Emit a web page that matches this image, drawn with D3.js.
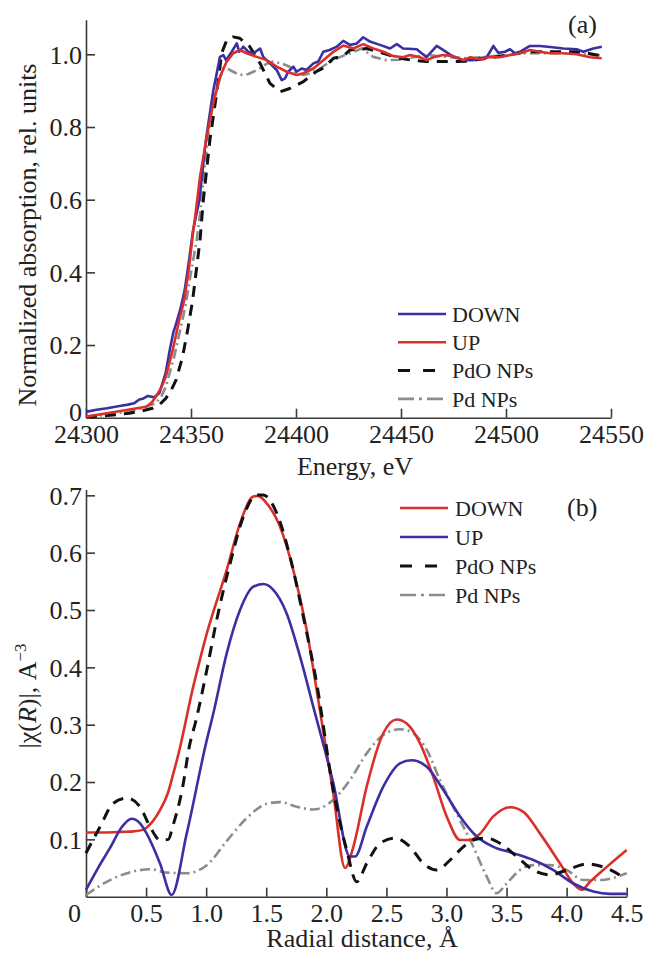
<!DOCTYPE html>
<html>
<head>
<meta charset="utf-8">
<script src="https://cdn.jsdelivr.net/npm/d3@7"></script>
<style>
  body { margin: 0; background: #fff; }
  svg { display: block; }
  text { font-family: "Liberation Serif", "Times New Roman", serif; fill: #222; }
</style>
</head>
<body>
<svg id="chart" width="646" height="954"></svg>
<script>
"use strict";

// ---- panel (a): XANES, energy (eV) vs normalized absorption ----
var xanesDown = [[24300,0.016],[24305,0.022],[24310,0.026],[24316,0.032],[24320,0.036],[24323,0.04],[24325.4,0.05],[24327,0.052],[24329.4,0.06],[24332.5,0.056],[24335,0.068],[24338,0.125],[24340,0.19],[24341.6,0.235],[24343,0.26],[24345,0.3],[24347,0.351],[24349,0.43],[24351,0.516],[24354,0.6],[24357,0.76],[24360.6,0.9],[24362,0.94],[24363.8,0.993],[24365.4,0.998],[24366.7,0.984],[24369.4,1.007],[24371.8,1.03],[24373,1.007],[24374.9,1.021],[24377.3,1.007],[24379.7,1.003],[24382.9,1.016],[24384.4,0.993],[24387.6,0.975],[24390.8,0.957],[24393.2,0.929],[24394.8,0.934],[24396.3,0.952],[24398.7,0.966],[24400.3,0.952],[24402.7,0.961],[24405,0.957],[24408.3,0.975],[24410.6,0.98],[24413,1.007],[24416,1.012],[24419.4,1.021],[24422.5,1.037],[24425.7,1.026],[24429,1.03],[24432,1.047],[24435.2,1.035],[24440,1.026],[24444.8,1.016],[24448,1.028],[24451,1.016],[24457.5,1.014],[24462.2,0.992],[24467,1.023],[24470,1.012],[24475,0.993],[24479.7,0.984],[24484.4,0.984],[24487.6,0.99],[24490.8,0.992],[24494,1.023],[24496.3,1.004],[24499.5,1.007],[24501.9,1.014],[24504.3,1.003],[24507,1.008],[24511.4,1.023],[24516.2,1.023],[24521,1.02],[24527.3,1.016],[24533.7,1.014],[24536.8,1.007],[24541.6,1.016],[24545.6,1.021]];
var xanesUp = [[24300,0.003],[24310,0.012],[24320,0.022],[24328.6,0.03],[24331,0.04],[24333.3,0.058],[24336,0.085],[24338,0.113],[24341.3,0.186],[24344.4,0.269],[24346.8,0.324],[24349,0.41],[24351.1,0.516],[24352,0.553],[24354.3,0.663],[24357.5,0.773],[24360.6,0.865],[24363.8,0.938],[24367,0.98],[24370.1,1.003],[24373.3,1.012],[24376.5,1.003],[24381.3,0.993],[24386,0.984],[24390.8,0.966],[24395.6,0.952],[24400.3,0.943],[24403.5,0.948],[24408.3,0.961],[24413,0.984],[24417.8,1.007],[24422.5,1.024],[24427.3,1.016],[24432,1.028],[24436.8,1.016],[24441.6,1.007],[24446.3,0.995],[24451,0.992],[24454.3,0.998],[24459,0.992],[24462.2,0.984],[24465.5,0.992],[24470,0.998],[24475,0.995],[24479.7,0.984],[24483,0.992],[24487.6,0.986],[24492.4,0.993],[24497,0.992],[24502,0.998],[24506.7,1.003],[24511.4,1.012],[24516,1.007],[24521,1.003],[24527,1.003],[24533.7,1.0],[24540,0.992],[24545.6,0.989]];
var xanesPdO = [[24300,0.002],[24310,0.006],[24320.6,0.012],[24326,0.018],[24331.7,0.026],[24335,0.036],[24338,0.053],[24340.5,0.075],[24342.9,0.104],[24346,0.168],[24348.4,0.241],[24350.8,0.324],[24354.3,0.489],[24355.9,0.6],[24359,0.764],[24362.2,0.893],[24364.6,1.003],[24367,1.039],[24370,1.048],[24373.3,1.044],[24378,1.021],[24382.9,0.975],[24387.6,0.92],[24392.4,0.897],[24397,0.906],[24403.5,0.925],[24409.8,0.953],[24413,0.962],[24417.8,0.989],[24422.5,0.995],[24425.7,1.012],[24433.7,1.016],[24441.6,1.003],[24449.5,0.989],[24455,0.984],[24462.2,0.98],[24471.8,0.98],[24481,0.981],[24490.8,0.989],[24500.3,0.998],[24509.8,1.007],[24519.4,1.007],[24528.9,1.007],[24536,1.007],[24543,0.998],[24545.6,0.995]];
var xanesPd = [[24300,0.001],[24312,0.01],[24323.8,0.021],[24333.3,0.04],[24336,0.06],[24338,0.085],[24342,0.168],[24345.2,0.25],[24347.6,0.315],[24350,0.4],[24352.7,0.489],[24354.3,0.56],[24356.5,0.69],[24359,0.819],[24361,0.88],[24363,0.92],[24365.4,0.962],[24367.5,0.96],[24370.1,0.952],[24372.5,0.945],[24374.9,0.943],[24377.3,0.946],[24379.7,0.952],[24382.9,0.962],[24386,0.974],[24389.2,0.98],[24393,0.975],[24397,0.966],[24400,0.95],[24403.5,0.943],[24407,0.948],[24411.4,0.961],[24415,0.975],[24419.4,0.989],[24425.7,1.003],[24431.3,1.016],[24436.8,0.993],[24443,0.984],[24449.5,0.985],[24456,0.992],[24462.2,0.998],[24471.8,0.993],[24481,0.989],[24490.8,0.993],[24500,0.998],[24509.8,1.003],[24519.4,1.003],[24528.9,1.003],[24538,1.0],[24545,0.998]];
var xanesTicksX = [24300, 24350, 24400, 24450, 24500, 24550];
var xanesTicksY = [0, 0.2, 0.4, 0.6, 0.8, 1.0];

// ---- panel (b): FT EXAFS, radial distance vs |chi(R)| ----
var exafsDown = [[0,0.112],[0.15,0.112],[0.3,0.113],[0.4,0.114],[0.477,0.117],[0.55,0.13],[0.616,0.151],[0.68,0.18],[0.727,0.215],[0.78,0.258],[0.824,0.3],[0.88,0.355],[0.949,0.414],[1.0,0.455],[1.06,0.497],[1.171,0.57],[1.282,0.651],[1.392,0.698],[1.43,0.699],[1.504,0.686],[1.615,0.645],[1.725,0.57],[1.837,0.465],[1.92,0.36],[2.058,0.18],[2.156,0.05],[2.225,0.087],[2.336,0.192],[2.474,0.285],[2.586,0.309],[2.669,0.302],[2.78,0.2675],[2.89,0.209],[3.002,0.14],[3.113,0.099],[3.196,0.099],[3.28,0.11],[3.39,0.14],[3.529,0.156],[3.64,0.148],[3.779,0.11],[3.945,0.058],[4.056,0.023],[4.126,0.012],[4.195,0.026],[4.334,0.052],[4.5,0.0815]];
var exafsUp = [[0,0.012],[0.1,0.05],[0.2,0.085],[0.3,0.122],[0.38,0.136],[0.45,0.128],[0.505,0.11],[0.616,0.058],[0.713,0.003],[0.838,0.11],[1.005,0.273],[1.06,0.32],[1.171,0.4245],[1.282,0.5],[1.393,0.5406],[1.476,0.5453],[1.559,0.535],[1.67,0.494],[1.781,0.419],[1.892,0.331],[2.058,0.198],[2.197,0.07],[2.239,0.07],[2.336,0.122],[2.474,0.192],[2.613,0.2326],[2.71,0.238],[2.836,0.2267],[2.974,0.186],[3.113,0.14],[3.252,0.105],[3.39,0.087],[3.557,0.076],[3.723,0.064],[3.89,0.0465],[4.056,0.023],[4.223,0.009],[4.36,0.005],[4.5,0.005]];
var exafsPdO = [[0,0.076],[0.117,0.122],[0.227,0.163],[0.339,0.172],[0.449,0.157],[0.533,0.122],[0.616,0.099],[0.685,0.1],[0.721,0.122],[0.805,0.192],[0.86,0.262],[0.916,0.308],[1.005,0.395],[1.088,0.483],[1.199,0.581],[1.31,0.663],[1.42,0.7006],[1.476,0.7006],[1.587,0.669],[1.698,0.593],[1.809,0.488],[1.92,0.372],[2.058,0.186],[2.17,0.081],[2.253,0.026],[2.336,0.058],[2.447,0.093],[2.572,0.102],[2.697,0.087],[2.807,0.058],[2.919,0.0465],[3.03,0.064],[3.14,0.087],[3.224,0.099],[3.335,0.102],[3.446,0.093],[3.585,0.07],[3.723,0.0465],[3.862,0.038],[4.0,0.0465],[4.167,0.057],[4.334,0.0495],[4.486,0.032]];
var exafsPd = [[0,0.003],[0.2,0.029],[0.394,0.044],[0.533,0.048],[0.671,0.042],[0.838,0.041],[1.005,0.055],[1.171,0.097],[1.337,0.137],[1.504,0.162],[1.615,0.165],[1.754,0.157],[1.892,0.152],[2.03,0.164],[2.197,0.2035],[2.336,0.25],[2.474,0.282],[2.613,0.292],[2.724,0.285],[2.836,0.256],[2.946,0.2035],[3.085,0.145],[3.224,0.087],[3.335,0.035],[3.418,0.006],[3.5,0.023],[3.612,0.0465],[3.723,0.055],[3.862,0.055],[4.0,0.0465],[4.14,0.029],[4.278,0.029],[4.5,0.041]];
var exafsTicksX = [0, 0.5, 1.0, 1.5, 2.0, 2.5, 3.0, 3.5, 4.0, 4.5];
var exafsTicksY = [0.1, 0.2, 0.3, 0.4, 0.5, 0.6, 0.7];

var cBlue = "#3b2fa3", cRed = "#d9302b", cBlack = "#111", cGrey = "#8c8c8c";
var styleSolid = { dash: null, legendDash: null, width: 2.6 };
var styleDash = { dash: "11,8", legendDash: "12,13", width: 3 };
var styleDashDot = { dash: "10,4,2,4", legendDash: "16,5,3,5,16", width: 2.6 };

var svg = d3.select("#chart");
var fmt1 = function (d) { return d === 0 ? "0" : d.toFixed(1); };

function drawPanel(oCfg) {
	var x = d3.scaleLinear().domain(oCfg.xDomain).range(oCfg.xRange);
	var y = d3.scaleLinear().domain(oCfg.yDomain).range(oCfg.yRange);
	var g = svg.append("g");

	// axes, ticks pointing inwards
	var axX = g.append("g")
		.attr("transform", "translate(0," + oCfg.yRange[0] + ")")
		.call(d3.axisBottom(x).tickValues(oCfg.ticksX).tickFormat(oCfg.fmtX)
			.tickSizeInner(-9).tickSizeOuter(0).tickPadding(7));
	var axY = g.append("g")
		.attr("transform", "translate(" + oCfg.xRange[0] + ",0)")
		.call(d3.axisLeft(y).tickValues(oCfg.ticksY).tickFormat(oCfg.fmtY)
			.tickSizeInner(-9).tickSizeOuter(0).tickPadding(4));
	[axX, axY].forEach(function (ax) {
		ax.selectAll("path, line").attr("stroke", "#3a3a3a").attr("stroke-width", 1.6);
		ax.selectAll("text").attr("font-size", 26).attr("fill", "#222")
			.style("font-family", "'Liberation Serif', serif");
	});
	axY.selectAll("text").attr("dy", "0.34em");
	// the zero of the y axis sits a little higher, clear of the x labels
	axY.selectAll(".tick").filter(function (d) { return d === 0; })
		.select("text").attr("dy", "0.12em");
	if (oCfg.shiftZero) {
		axX.selectAll(".tick").filter(function (d) { return d === 0; })
			.select("text").attr("x", -12);
	}

	var line = d3.line()
		.x(function (d) { return x(d[0]); })
		.y(function (d) { return y(d[1]); })
		.curve(oCfg.curve);

	oCfg.series.slice().sort(function (a, b) { return a.z - b.z; }).forEach(function (s) {
		g.append("path")
			.datum(s.data)
			.attr("d", line)
			.attr("fill", "none")
			.attr("stroke", s.color)
			.attr("stroke-width", s.style.width)
			.attr("stroke-linejoin", "round")
			.attr("stroke-dasharray", s.style.dash);
	});

	// legend
	var lg = g.append("g");
	oCfg.series.forEach(function (s, i) {
		var yy = oCfg.legend.y + i * oCfg.legend.step;
		lg.append("line")
			.attr("x1", oCfg.legend.x).attr("x2", oCfg.legend.x + 48)
			.attr("y1", yy).attr("y2", yy)
			.attr("stroke", s.color)
			.attr("stroke-width", s.style.width)
			.attr("stroke-dasharray", s.style.legendDash);
		lg.append("text")
			.attr("x", oCfg.legend.x + oCfg.legend.gap)
			.attr("y", yy)
			.attr("dy", "0.35em")
			.attr("font-size", 22)
			.text(s.name);
	});

	g.append("text")
		.attr("x", oCfg.tag[0]).attr("y", oCfg.tag[1])
		.attr("font-size", 26)
		.text(oCfg.tagText);

	g.append("text")
		.attr("x", oCfg.xLabel[0]).attr("y", oCfg.xLabel[1])
		.attr("text-anchor", "middle")
		.attr("font-size", 26)
		.text(oCfg.xTitle);

	return g;
}

// (a)
var gA = drawPanel({
	xDomain: [24300, 24550], xRange: [86, 611],
	yDomain: [0, 1.095], yRange: [417.7, 19.8],
	ticksX: xanesTicksX, ticksY: xanesTicksY,
	fmtX: d3.format("d"), fmtY: fmt1,
	curve: d3.curveLinear,
	series: [
		{ name: "DOWN", data: xanesDown, color: cBlue, style: styleSolid, z: 3 },
		{ name: "UP", data: xanesUp, color: cRed, style: styleSolid, z: 4 },
		{ name: "PdO NPs", data: xanesPdO, color: cBlack, style: styleDash, z: 2 },
		{ name: "Pd NPs", data: xanesPd, color: cGrey, style: styleDashDot, z: 1 }
	],
	legend: { x: 398, y: 314, step: 28.3, gap: 54 },
	tag: [568, 33], tagText: "(a)",
	xLabel: [355, 475], xTitle: "Energy, eV"
});
gA.append("text")
	.attr("transform", "translate(36,235) rotate(-90)")
	.attr("text-anchor", "middle")
	.attr("font-size", 26)
	.text("Normalized absorption, rel. units");

// (b)
var gB = drawPanel({
	xDomain: [0, 4.5], xRange: [86, 626.7],
	yDomain: [0, 0.71], yRange: [896.7, 489.6],
	ticksX: exafsTicksX, ticksY: exafsTicksY,
	fmtX: fmt1, fmtY: fmt1, shiftZero: true,
	curve: d3.curveMonotoneX,
	series: [
		{ name: "DOWN", data: exafsDown, color: cRed, style: styleSolid, z: 2 },
		{ name: "UP", data: exafsUp, color: cBlue, style: styleSolid, z: 3 },
		{ name: "PdO NPs", data: exafsPdO, color: cBlack, style: styleDash, z: 4 },
		{ name: "Pd NPs", data: exafsPd, color: cGrey, style: styleDashDot, z: 1 }
	],
	legend: { x: 400, y: 508, step: 29, gap: 55 },
	tag: [567, 516], tagText: "(b)",
	xLabel: [362, 947], xTitle: "Radial distance, \u00C5"
});
var yLabB = gB.append("text")
	.attr("transform", "translate(36,696) rotate(-90)")
	.attr("text-anchor", "middle")
	.attr("font-size", 26);
yLabB.append("tspan").text("|\u03C7(");
yLabB.append("tspan").attr("font-style", "italic").text("R");
yLabB.append("tspan").text(")|, A");
yLabB.append("tspan").attr("font-size", 17).attr("dy", -10).text("\u22123");
</script>
</body>
</html>
